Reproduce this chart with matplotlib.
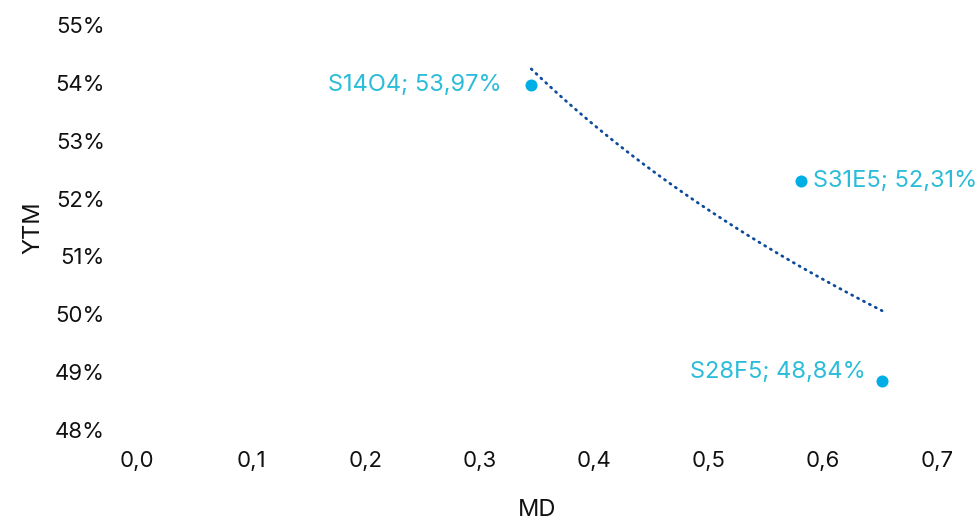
import numpy as np
import matplotlib
matplotlib.use("Agg")
import matplotlib.pyplot as plt
from matplotlib.ticker import FuncFormatter

plt.rcParams['font.family'] = ['Inter', 'DejaVu Sans']

# bond data: modified duration vs yield to maturity
tickers = ["S14O4", "S31E5", "S28F5"]
md = [0.345, 0.581, 0.652]
ytm = [53.97, 52.31, 48.84]

xticks = [0.0, 0.1, 0.2, 0.3, 0.4, 0.5, 0.6, 0.7]
yticks = [48, 49, 50, 51, 52, 53, 54, 55]

POINT_COLOR = "#00aee6"
LABEL_COLOR = "#2bbcd9"
TREND_COLOR = "#0b4a9c"

fig = plt.figure(figsize=(9.79, 5.2), dpi=100)
ax = fig.add_axes([0.14, 0.173, 0.817, 0.779])

ax.scatter(md, ytm, s=75, color=POINT_COLOR, zorder=3, linewidths=0)

# logarithmic trendline (like excel)
a, b = np.polyfit(np.log(md), ytm, 1)
xs = np.linspace(min(md), max(md), 200)
ax.plot(xs, a * np.log(xs) + b, color=TREND_COLOR, lw=2.0,
        linestyle=(0, (0.4, 2.0)), dash_capstyle='round', zorder=2)

offsets = {"S14O4": (-21, 0, "right"), "S31E5": (9, 0, "left"), "S28F5": (-12, 7, "right")}
for t, x, y in zip(tickers, md, ytm):
    dx, dy, ha = offsets[t]
    lab = f"{t}; {y:.2f}%".replace(".", ",")
    ax.annotate(lab, (x, y), xytext=(dx, dy), textcoords="offset points",
                ha=ha, va="center", color=LABEL_COLOR, fontsize=17)

ax.set_xlim(0, 0.7)
ax.set_ylim(48, 55)
ax.set_xticks(xticks)
ax.set_yticks(yticks)
ax.xaxis.set_major_formatter(FuncFormatter(lambda v, p: f"{v:.1f}".replace(".", ",")))
ax.yaxis.set_major_formatter(FuncFormatter(lambda v, p: f"{v:.0f}%"))
ax.tick_params(length=0, labelsize=16, colors="#111111")
ax.tick_params(axis="y", pad=23)
ax.tick_params(axis="x", pad=15)
for s in ax.spines.values():
    s.set_visible(False)

ax.set_xlabel("MD", fontsize=17, labelpad=20, color="#111111")
ax.set_ylabel("YTM", fontsize=17, labelpad=8, color="#111111")

fig.savefig("out.png", dpi=100)
